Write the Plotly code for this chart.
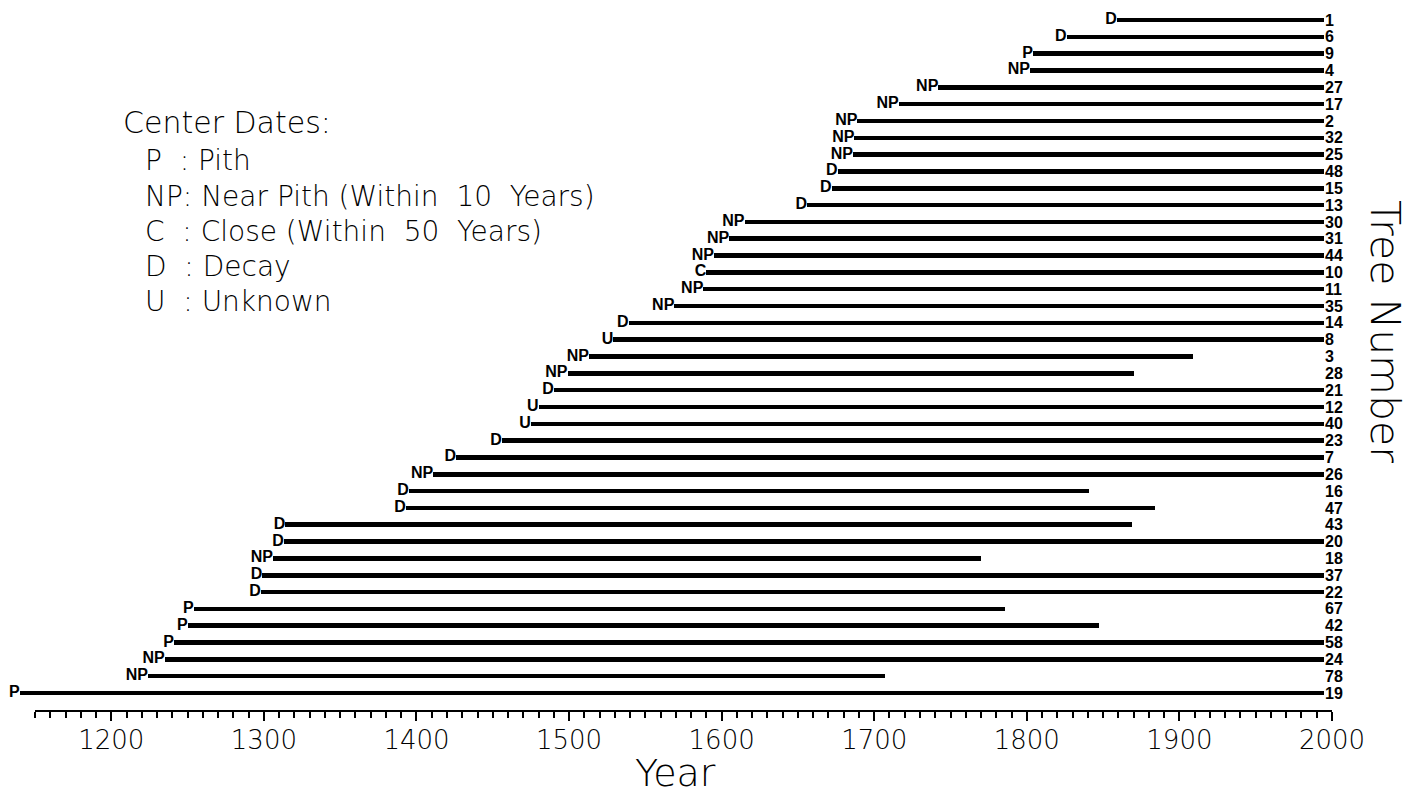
import plotly.graph_objects as go

# ---- data ----
trees = [1, 6, 9, 4, 27, 17, 2, 32, 25, 48, 15, 13, 30, 31, 44, 10, 11, 35, 14, 8,
         3, 28, 21, 12, 40, 23, 7, 26, 16, 47, 43, 20, 18, 37, 22, 67, 42, 58, 24, 78, 19]
codes = ['D', 'D', 'P', 'NP', 'NP', 'NP', 'NP', 'NP', 'NP', 'D', 'D', 'D', 'NP', 'NP', 'NP', 'C',
         'NP', 'NP', 'D', 'U', 'NP', 'NP', 'D', 'U', 'U', 'D', 'D', 'NP', 'D', 'D', 'D', 'D', 'NP',
         'D', 'D', 'P', 'P', 'P', 'NP', 'NP', 'P']
start_years = [1859, 1826, 1804, 1802, 1742, 1716, 1689, 1687, 1686, 1676, 1672, 1656, 1615, 1605,
               1595, 1590, 1588, 1569, 1539, 1529, 1513, 1499, 1490, 1480, 1475, 1456, 1426, 1411,
               1395, 1393, 1314, 1313, 1306, 1299, 1298, 1254, 1250, 1241, 1235, 1224, 1140]
end_years = [1995] * 20 + [1909, 1870, 1995, 1995, 1995, 1995, 1995, 1995, 1841, 1884, 1869, 1995,
                           1770, 1995, 1995, 1786, 1847, 1995, 1995, 1707, 1995]
major_ticks = list(range(1200, 2001, 100))
minor_ticks = list(range(1150, 2001, 10))
legend_header = "Center Dates:"
legend_items = ["P\u00a0 : Pith",
                "NP: Near Pith (Within\u00a0 10\u00a0 Years)",
                "C\u00a0 : Close (Within\u00a0 50\u00a0 Years)",
                "D\u00a0 : Decay",
                "U\u00a0 : Unknown"]

# page is drawn with an 8px body margin; work in page pixels and convert
OFF = 8
W, H = 1413 - OFF, 797 - OFF
PLOT_R = 1332 - OFF          # right edge of plot area (year 2000)
PLOT_B = 711 - OFF           # x-axis line
PX_PER_YEAR = 1.526
ROW = 16.83


def px(xp):
    return (xp - OFF) / PLOT_R


def py(yp):
    return 1 - (yp - OFF) / PLOT_B


thin = dict(family="DejaVu Sans, Lato, sans-serif", color="black", weight=200)
bold = dict(family="Liberation Sans Narrow, Liberation Sans, Arial, sans-serif",
            color="black", size=16, weight="bold")

ylabels = [str(t) for t in trees]
durations = [e - s for s, e in zip(start_years, end_years)]

fig = go.Figure()
fig.add_trace(go.Bar(
    orientation="h", y=ylabels, x=durations, base=start_years,
    width=0.27, marker=dict(color="black", line=dict(width=0)),
    hoverinfo="skip", showlegend=False,
))
fig.add_trace(go.Scatter(
    x=start_years, y=ylabels, mode="text", text=codes,
    textposition="middle left", textfont=bold, cliponaxis=False,
    hoverinfo="skip", showlegend=False,
))

# axis line drawn only over the labelled span
fig.add_shape(type="line", xref="x", yref="paper", x0=minor_ticks[0], x1=minor_ticks[-1],
              y0=0, y1=0, line=dict(color="black", width=2))

fig.add_annotation(text=legend_header, xref="paper", yref="paper", x=px(121), y=py(123),
                   xanchor="left", yanchor="middle", showarrow=False, align="left",
                   font=dict(thin, size=30))
for i, item in enumerate(legend_items):
    fig.add_annotation(text=item, xref="paper", yref="paper", x=px(143), y=py(161 + 35 * i),
                       xanchor="left", yanchor="middle", showarrow=False, align="left",
                       font=dict(thin, size=28))
fig.add_annotation(text="Tree Number", xref="paper", yref="paper", x=px(1385), y=py(331),
                   xanchor="center", yanchor="middle", showarrow=False, textangle=90,
                   font=dict(thin, size=41))
fig.add_annotation(text="Year", xref="paper", yref="paper", x=px(675), y=py(797),
                   xanchor="center", yanchor="bottom", showarrow=False,
                   font=dict(thin, size=38))

fig.update_layout(
    width=W, height=H, margin=dict(l=0, r=W - PLOT_R, t=0, b=H - PLOT_B, autoexpand=False),
    plot_bgcolor="white", paper_bgcolor="white", bargap=0,
    xaxis=dict(range=[1150 - (35 - OFF) / PX_PER_YEAR, 2000], showgrid=False, zeroline=False,
               showline=False, tickmode="array", tickvals=major_ticks, ticks="outside",
               ticklen=9, tickwidth=1.6, tickcolor="black", tickfont=dict(thin, size=26),
               ticklabelstandoff=-3,
               minor=dict(tickmode="array", tickvals=minor_ticks, ticks="outside", ticklen=6,
                          tickwidth=1.6, tickcolor="black", showgrid=False),
               automargin=False),
    yaxis=dict(type="category", categoryorder="array", categoryarray=ylabels,
               range=[40 + 18 / ROW, -(20 - OFF) / ROW], showgrid=False, zeroline=False,
               showline=False, ticks="", side="right", anchor="free", position=px(1324),
               tickmode="array", tickvals=ylabels, ticktext=ylabels,
               tickfont=bold, automargin=False),
)

fig.write_html("out.html")
